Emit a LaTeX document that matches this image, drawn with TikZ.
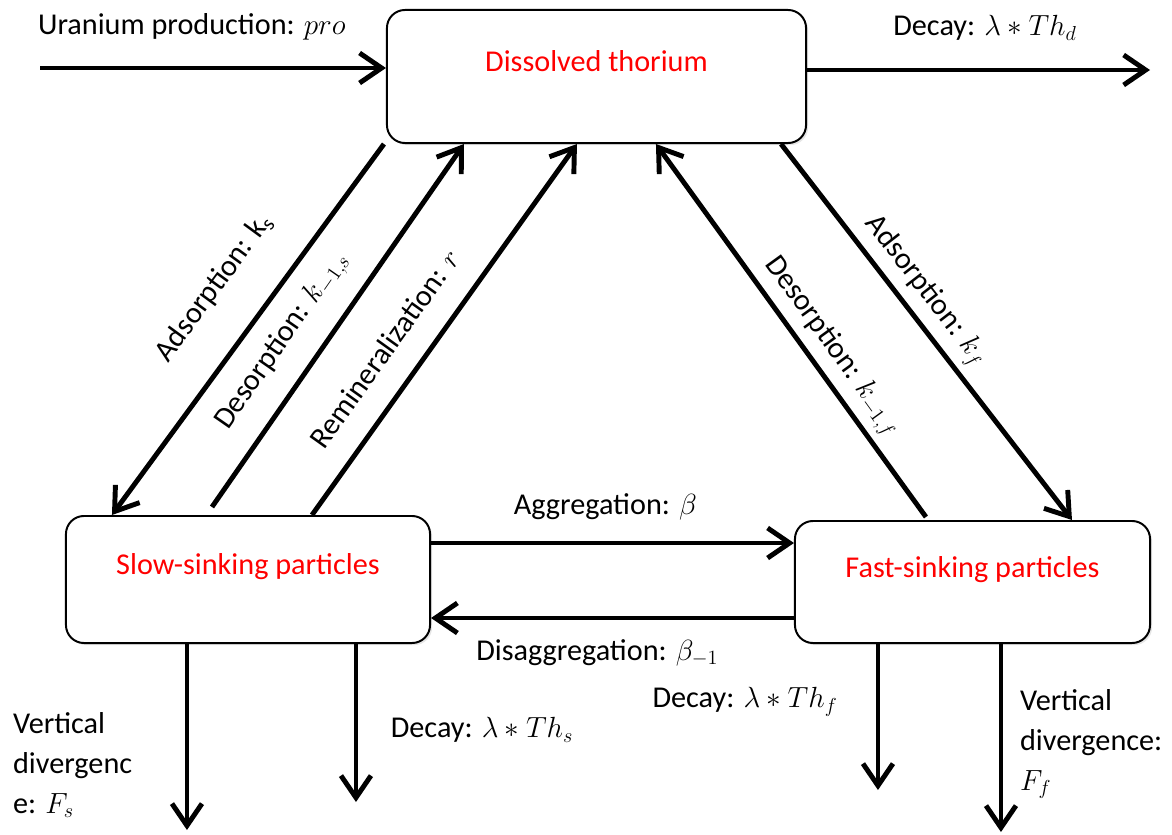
\documentclass[tikz,border=0pt]{standalone}
\usepackage{fontspec}
\setmainfont{Carlito}
\usetikzlibrary{positioning,calc,arrows.meta,shadows}

\tikzset{
  pool/.style={draw, line width=1.4pt, rounded corners=0.45cm, fill=white,
    font=\fontsize{21.5}{26}\selectfont, text=red, text height=0.55cm, text depth=0.78cm,
    drop shadow={opacity=0.2, shadow xshift=1.5pt, shadow yshift=-1.5pt}},
  flux/.style={line width=3.5pt, -{Straight Barb[length=0.55cm,width=0.75cm]}},
  fluxback/.style={line width=3.5pt, {Straight Barb[length=0.55cm,width=0.75cm]}-},
  rate/.style={font=\fontsize{21.5}{28.5}\selectfont, inner sep=2pt},
}

\begin{document}
\begin{tikzpicture}[x=0.025cm, y=-0.025cm]
  \useasboundingbox (0,0) rectangle (1172,835);

  % thorium pools
  \node (dissolved) [pool, minimum width=10.475cm, minimum height=3.325cm] at (596.5,76.5) {Dissolved thorium};
  \node (slow) [pool, minimum width=9.1cm, minimum height=3.175cm] at (248,579.5) {Slow-sinking particles};
  \node (fast) [pool, minimum width=8.875cm, minimum height=3.05cm] at (972.5,582) {Fast-sinking particles};

  % source and decay of dissolved thorium
  \coordinate (uin) at (40,68);
  \coordinate (dout) at (1150,70);
  \draw[flux] (uin) -- (uin -| dissolved.west);
  \draw[flux] (dissolved.east |- dout) -- (dout);
  \node (uran) [rate, anchor=west] at (35,27) {Uranium production: $pro$};
  \node (decayd) [rate] at (985,28) {Decay: $\lambda \ast Th_d$};

  % exchange with the particles
  \draw[fluxback] ($(slow.north west)+(47,0)$) -- node[rate, sloped, above=0.85cm, pos=0.53] {Adsorption: k\textsubscript{s}} ($(dissolved.south west)+(-2,0)$);
  \draw[flux] ($(slow.north west)+(147,-8)$) -- node[rate, sloped, above=0.42cm, pos=0.4] {Desorption: $k_{-1,s}$} ($(dissolved.south west)+(78,0)$);
  \draw[flux] ($(slow.north west)+(247,0)$) -- node[rate, sloped, above=0.55cm, pos=0.39] {Remineralization: $r$} ($(dissolved.south west)+(191,0)$);
  \draw[fluxback] ($(dissolved.south west)+(270,0)$) -- node[rate, sloped, above=0.1cm, pos=0.58] {Desorption: $k_{-1,f}$} ($(fast.north west)+(132,-3)$);
  \draw[flux] ($(dissolved.south east)+(-26,0)$) -- node[rate, sloped, above=0.1cm, pos=0.43] {Adsorption: $k_f$} ($(fast.north west)+(278,0)$);

  % aggregation
  \coordinate (aggS) at ($(slow.north east)+(0,28)$);
  \coordinate (disF) at ($(fast.south west)+(0,-26)$);
  \draw[flux] (aggS) -- node (agg) [rate, above=0.45cm, xshift=-0.18cm] {Aggregation: $\beta$} (aggS -| fast.west);
  \draw[flux] (disF) -- node (disagg) [rate, below=0.4cm, xshift=-0.38cm] {Disaggregation: $\beta_{-1}$} (disF -| slow.east);

  % losses of the particles
  \coordinate (vsS) at ($(slow.south west)+(122,0)$);
  \coordinate (dcS) at ($(slow.south west)+(291,0)$);
  \coordinate (dcF) at ($(fast.south west)+(84,0)$);
  \coordinate (vsF) at ($(fast.south west)+(207,0)$);
  \draw[flux] (vsS) -- (vsS |- 0,830);
  \draw[flux] (dcS) -- (dcS |- 0,802);
  \draw[flux] (dcF) -- (dcF |- 0,790);
  \draw[flux] (vsF) -- (vsF |- 0,832);
  \node (vdivS) [rate, align=left, anchor=north west] at (10,709) {Vertical\\divergenc\\e: $F_s$};
  \node (decayS) [rate] at (482,730) {Decay: $\lambda \ast Th_s$};
  \node (decayF) [rate] at (745,702) {Decay: $\lambda \ast Th_f$};
  \node (vdivF) [rate, align=left, anchor=north west] at (1017,686) {Vertical\\divergence:\\$F_f$};
\end{tikzpicture}
\end{document}
